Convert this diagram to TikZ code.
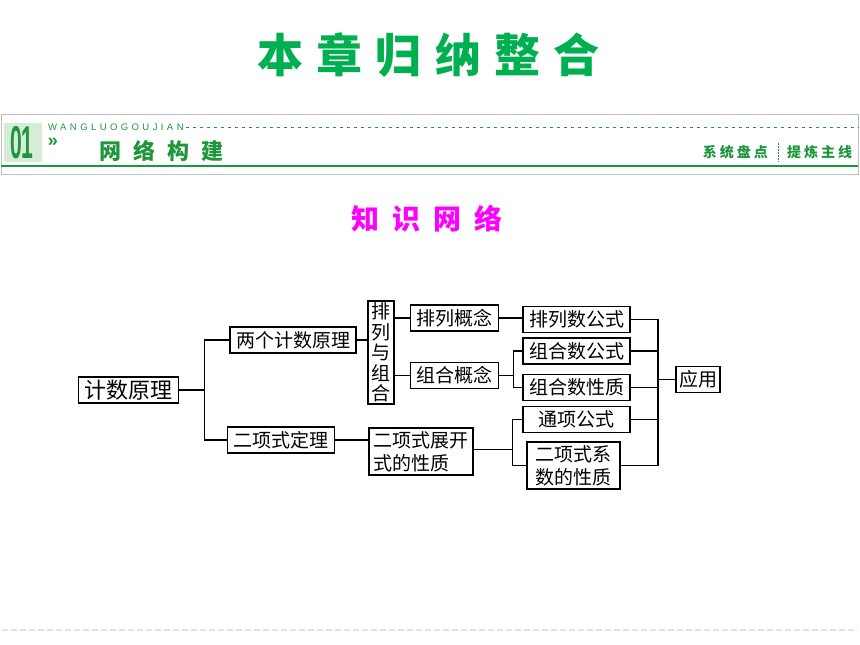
\documentclass[tikz,border=0pt]{standalone}
\usepackage{fontspec}
\setmainfont{Liberation Sans}
\newfontfamily\cjk{Noto Sans CJK SC}
\newfontfamily\cjkwide[LetterSpace=29]{Noto Sans CJK SC}
\newfontfamily\latinwide[LetterSpace=36]{Liberation Sans}

\definecolor{titlegreen}{RGB}{0,176,80}
\definecolor{hdgreen}{RGB}{30,150,60}
\definecolor{paleGreen}{RGB}{214,236,216}
\definecolor{frameGray}{RGB}{190,190,190}
\definecolor{rule}{RGB}{228,228,228}
\definecolor{pinkish}{RGB}{255,0,255}

\tikzset{
  box/.style={draw, line width=1.2pt, inner xsep=6pt, inner ysep=0pt,
    minimum height=26pt, font=\cjk\fontsize{19}{23}\selectfont},
  link/.style={line width=1.2pt}
}

\begin{document}
\begin{tikzpicture}[x=1pt,y=-1pt]
    \useasboundingbox (0,0) rectangle (860,645);

    % title
    \node[anchor=west, text=titlegreen, inner sep=0pt,
      font=\cjkwide\bfseries\fontsize{46}{46}\selectfont]
      (title) at (257,55) {本章归纳整合};

    % header band
    \draw[frameGray, line width=1pt] (1,114) rectangle (858,174);
    \draw[hdgreen, line width=1.5pt] (1,166) -- (858,166);
    \fill[paleGreen] (4,123) rectangle (42,162);
    \node[text=hdgreen, inner sep=0pt, font=\bfseries\fontsize{46}{46}\selectfont, xscale=0.46]
      (num) at (22,143) {01};
    \node[anchor=west, text=hdgreen, inner sep=0pt, font=\latinwide\fontsize{9.5}{9.5}\selectfont]
      (pinyin) at (48,127) {WANGLUOGOUJIAN};
    \draw[hdgreen, line width=1pt, dash pattern=on 3pt off 4pt] (pinyin.east) ++(2,0) -- (858,127);
    \node[text=hdgreen, inner sep=0pt, font=\bfseries\fontsize{18}{18}\selectfont] (arrows) at (53,142) {»};
    \node[anchor=west, text=hdgreen, inner sep=0pt,
      font=\cjk\bfseries\fontsize{22}{22}\selectfont] (section) at (99,151)
      {网\hspace{12pt}络\hspace{12pt}构\hspace{12pt}建};
    \node[anchor=east, text=hdgreen, inner sep=0pt,
      font=\cjk\bfseries\fontsize{14}{14}\selectfont] (tagA) at (768,152)
      {系\hspace{3pt}统\hspace{3pt}盘\hspace{3pt}点};
    \node[anchor=west, text=hdgreen, inner sep=0pt,
      font=\cjk\bfseries\fontsize{14}{14}\selectfont] (tagB) at (787,152)
      {提\hspace{3pt}炼\hspace{3pt}主\hspace{3pt}线};
    \draw[hdgreen, line width=0.8pt, dash pattern=on 1.5pt off 1.5pt] (778,143) -- (778,162);

    % subtitle
    \node[anchor=west, text=pinkish, inner sep=0pt, font=\cjk\bfseries\fontsize{28}{28}\selectfont]
      (sub) at (351,219) {知\hspace{13pt}识\hspace{13pt}网\hspace{13pt}络};

    % boxes
    \node[box, font=\cjk\fontsize{22}{26}\selectfont] (jsyl) at (128.5,390) {计数原理};
    \node[box] (lgjs) at (293,340) {两个计数原理};
    \node[box] (exdl) at (281,440) {二项式定理};
    \node[box, inner xsep=3.5pt, minimum height=103pt, align=center,
      font=\cjk\fontsize{19}{20.5}\selectfont] (plzh) at (381,352.5)
      {排\\列\\与\\组\\合};
    \node[box, inner xsep=4.5pt, minimum height=47pt, align=left] (exzk) at (421,451.5)
      {二项式展开\\式的性质};
    \node[box] (plgn) at (454.5,318) {排列概念};
    \node[box] (zhgn) at (454.5,375.5) {组合概念};
    \node[box, minimum width=107pt] (plsgs) at (576.5,319.5) {排列数公式};
    \node[box, minimum width=107pt] (zhsgs) at (576.5,351) {组合数公式};
    \node[box, minimum width=107pt] (zhsxz) at (576.5,387.5) {组合数性质};
    \node[box, minimum width=107pt] (txgs) at (576.5,419.5) {通项公式};
    \node[box, inner xsep=8.5pt, minimum height=47pt, align=center] (xsxz) at (573.5,465.5)
      {二项式系\\数的性质};
    \node[box, inner xsep=3pt] (yy) at (698,379.5) {应用};

    % connectors
    \draw[link] (jsyl.east) -- ++(25,0) coordinate (j1) |- (lgjs.west);
    \draw[link] (j1) |- (exdl.west);
    \draw[link] (lgjs.east) -- (lgjs.east -| plzh.west);
    \draw[link] (plzh.east |- plgn.west) -- (plgn.west);
    \draw[link] (plzh.east |- zhgn.west) -- (zhgn.west);
    \draw[link] (exdl.east) -- (exdl.east -| exzk.west);
    \draw[link] (plgn.east) -- (plgn.east -| plsgs.west);
    \draw[link] (zhgn.east) -- ++(14,0) coordinate (z1) |- (zhsgs.west);
    \draw[link] (z1) |- (zhsxz.west);
    \draw[link] (exzk.east) ++(0,-2) -- ++(39,0) coordinate (e1) |- (txgs.west);
    \draw[link] (e1) |- (xsxz.west);

    % joining to the application box
    \coordinate (r1) at (658,379.5);
    \draw[link] (plsgs.east) -| (r1) |- (xsxz.east);
    \draw[link] (zhsgs.east) -- (zhsgs.east -| r1);
    \draw[link] (zhsxz.east) -- (zhsxz.east -| r1);
    \draw[link] (txgs.east) -- (txgs.east -| r1);
    \draw[link] (r1) -- (yy.west);

    % foot rule
    \draw[rule, line width=2.5pt, dash pattern=on 6pt off 3pt] (2,630) -- (858,630);
\end{tikzpicture}
\end{document}
